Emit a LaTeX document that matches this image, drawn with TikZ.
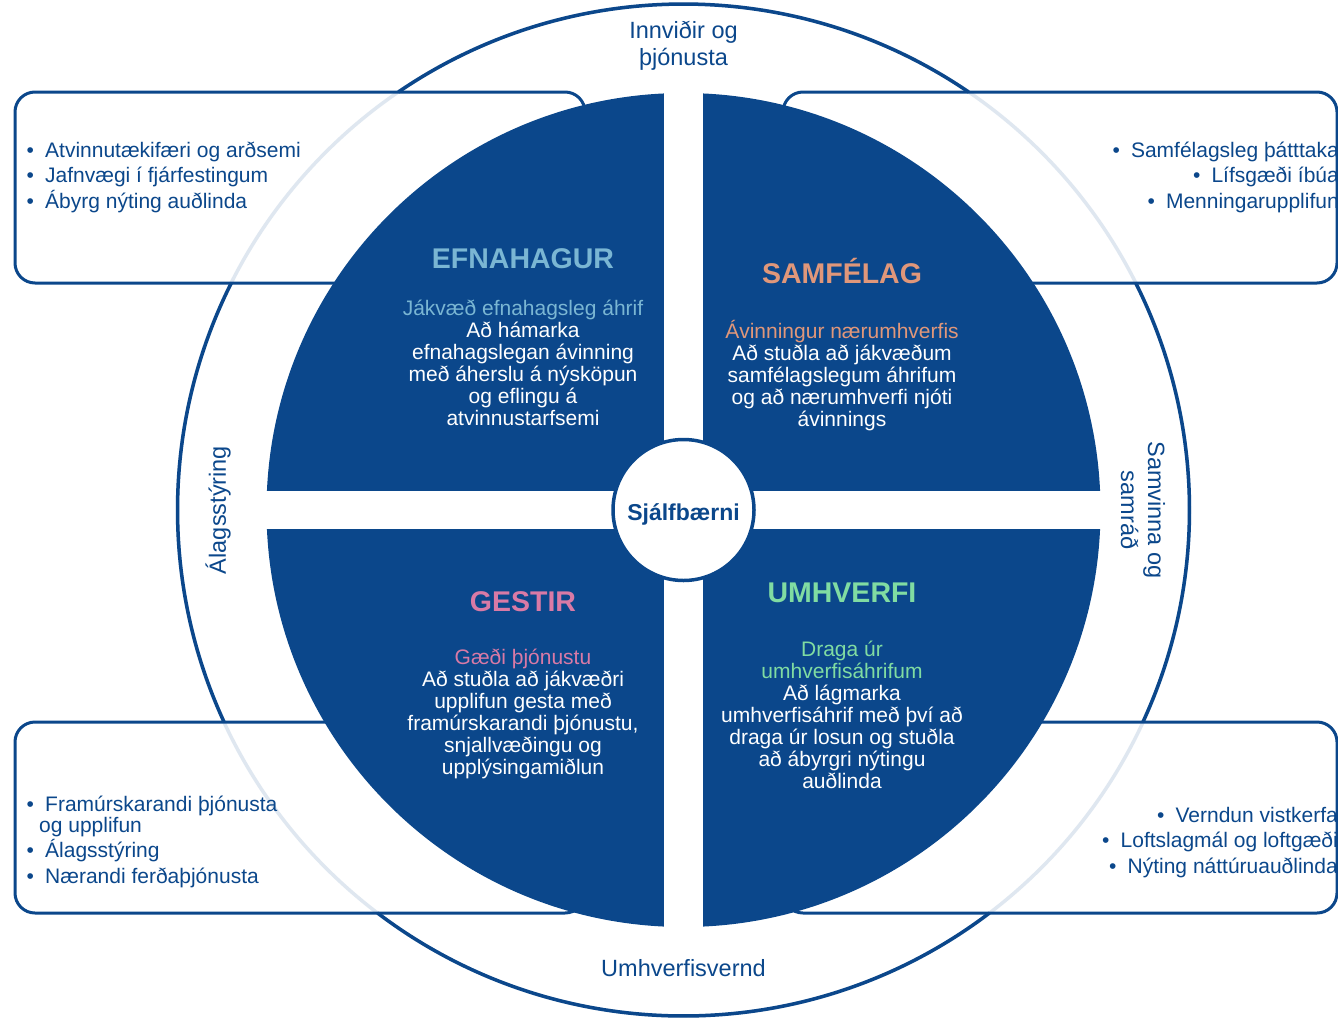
\documentclass[tikz,border=0pt]{standalone}
\usepackage{fontspec}
\setmainfont{Liberation Sans}
\definecolor{navy}{HTML}{0B478B}
\definecolor{ghost}{HTML}{DFE7F0}
\definecolor{ecoblue}{HTML}{7AB6D3}
\definecolor{socorange}{HTML}{E0977A}
\definecolor{guestpink}{HTML}{D97AA6}
\definecolor{envgreen}{HTML}{80DCA2}
\newcommand\bul{\makebox[18.5pt][l]{•}}
\begin{document}
\begin{tikzpicture}[x=1pt,y=-1pt,
  ring/.style={draw=navy, line width=3.5pt},
  ghostring/.style={draw=ghost, line width=3.5pt},
  boxfill/.style={fill=white, rounded corners=20pt},
  boxline/.style={draw=navy, line width=3pt, rounded corners=20pt},
  quad/.style={fill=navy},
  lbl/.style={text=navy, inner sep=0pt, font=\fontsize{23.5}{27}\selectfont, align=center},
  qtitle/.style={inner sep=0pt, font=\fontsize{28.5}{30}\selectfont\bfseries},
  qbody/.style={text=white, inner sep=0pt, align=center, font=\fontsize{21}{22}\selectfont},
  blist/.style={text=navy, inner sep=0pt, font=\fontsize{21}{25.5}\selectfont}]
\useasboundingbox (0,0) rectangle (1338,1017);
\coordinate (C) at (683.5,510);
% list box fills
\foreach \xa/\ya/\xb/\yb in {15/92/585/283, 783/92/1337/283, 15/722/585/913, 783/722/1337/913}{
  \fill[boxfill] (\xa,\ya) rectangle (\xb,\yb);
}
% faint ring (seen inside the boxes)
\draw[ghostring] (C) circle (506);
% dark ring arcs outside the boxes
\foreach \sa/\ea in {-26.7/24.8, 52.8/127.2, 155.2/206.7, 235.7/304.3}{
  \draw[ring] (C) ++(\sa:506) arc[start angle=\sa, end angle=\ea, radius=506];
}
% list box borders
\foreach \xa/\ya/\xb/\yb in {15/92/585/283, 783/92/1337/283, 15/722/585/913, 783/722/1337/913}{
  \draw[boxline] (\xa,\ya) rectangle (\xb,\yb);
}
% quadrants
\begin{scope}
  \clip (C) circle (417);
  \fill[quad] (200,60) rectangle (664,491);
  \fill[quad] (703,60) rectangle (1160,491);
  \fill[quad] (200,529) rectangle (664,960);
  \fill[quad] (703,529) rectangle (1160,960);
\end{scope}
% core
\node[circle, draw=navy, line width=3.5pt, fill=white, minimum size=141pt, inner sep=0pt] (core) at (C) {};
\node[text=navy, inner sep=0pt, anchor=base, font=\fontsize{23}{25}\selectfont\bfseries] (coreT) at (683.5,520) {Sjálfbærni};
% ring labels
\node[lbl, anchor=base] (infra) at (683.5,65) {Innviðir og\\þjónusta};
\node[lbl, anchor=base] (envprot) at (683.5,976) {Umhverfisvernd};
\node[lbl, rotate=90] (load) at (218,510) {Álagsstýring};
\node[lbl, rotate=-90] (coop) at (1143,510) {Samvinna og\\samráð};
% quadrant texts
\node[qtitle, text=ecoblue, anchor=base] (econT) at (523,268) {EFNAHAGUR};
\node[qbody, anchor=base] (econB) at (523,425) {\textcolor{ecoblue}{Jákvæð efnahagsleg áhrif}\\Að hámarka\\efnahagslegan ávinning\\með áherslu á nýsköpun\\og eflingu á\\atvinnustarfsemi};
\node[qtitle, text=socorange, anchor=base] (socT) at (842,283) {SAMFÉLAG};
\node[qbody, anchor=base] (socB) at (842,426) {\textcolor{socorange}{Ávinningur nærumhverfis}\\Að stuðla að jákvæðum\\samfélagslegum áhrifum\\og að nærumhverfi njóti\\ávinnings};
\node[qtitle, text=guestpink, anchor=base] (gueT) at (523,611) {GESTIR};
\node[qbody, anchor=base] (gueB) at (523,774) {\textcolor{guestpink}{Gæði þjónustu}\\Að stuðla að jákvæðri\\upplifun gesta með\\framúrskarandi þjónustu,\\snjallvæðingu og\\upplýsingamiðlun};
\node[qtitle, text=envgreen, anchor=base] (envT) at (842,602) {UMHVERFI};
\node[qbody, anchor=base] (envB) at (842,788) {\textcolor{envgreen}{Draga úr}\\\textcolor{envgreen}{umhverfisáhrifum}\\Að lágmarka\\umhverfisáhrif með því að\\draga úr losun og stuðla\\að ábyrgri nýtingu\\auðlinda};
% list texts
\node[blist, anchor=base west, align=left] (econL) at (26.5,208) {\bul Atvinnutækifæri og arðsemi\\\bul Jafnvægi í fjárfestingum\\\bul Ábyrg nýting auðlinda};
\node[blist, anchor=base east, align=right] (socL) at (1339,208) {\bul Samfélagsleg þátttaka\\\bul Lífsgæði íbúa\\\bul Menningarupplifun};
\node[blist, anchor=base west, align=left] (gueL) at (26.5,883) {\bul Framúrskarandi þjónusta\\[-4.5pt]\hspace{12.5pt}og upplifun\\\bul Álagsstýring\\\bul Nærandi ferðaþjónusta};
\node[blist, anchor=base east, align=right] (envL) at (1338,873) {\bul Verndun vistkerfa\\\bul Loftslagmál og loftgæði\\\bul Nýting náttúruauðlinda};
\end{tikzpicture}
\end{document}
